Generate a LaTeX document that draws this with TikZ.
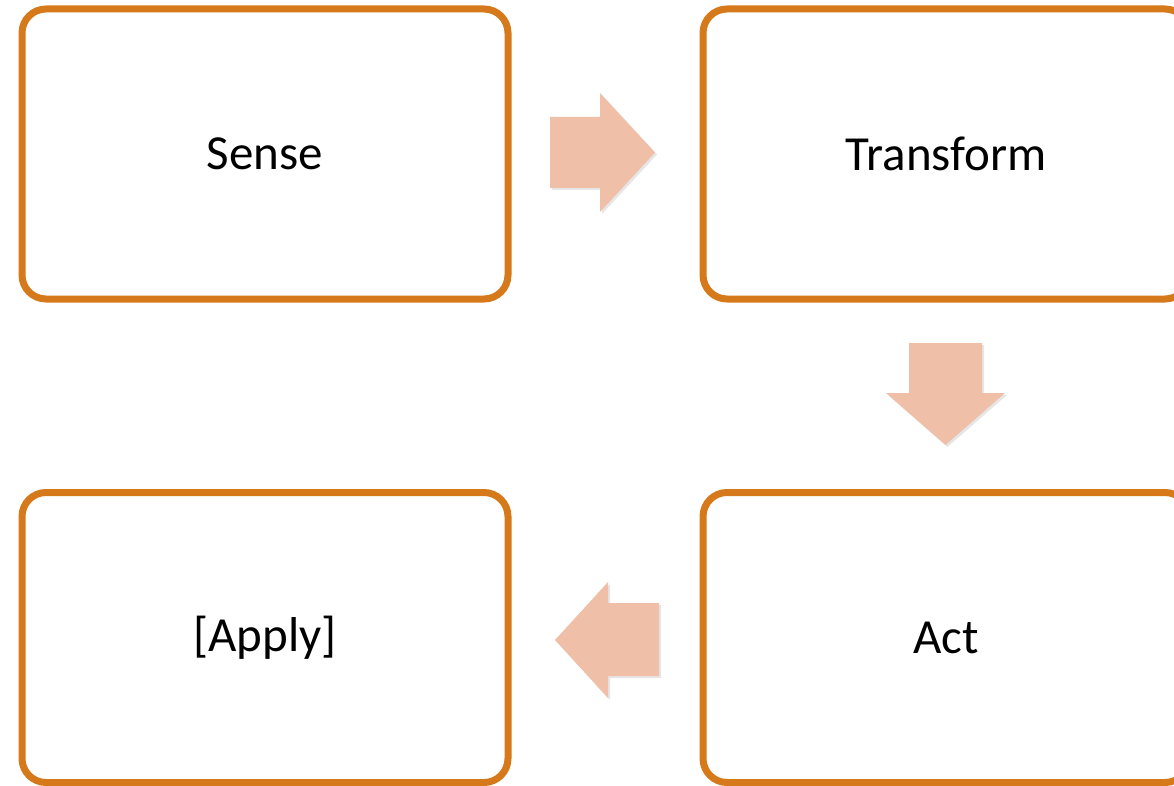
\documentclass[tikz,border=0pt]{standalone}
\usepackage{fontspec}
\setmainfont{Carlito}
\usetikzlibrary{shadows}
\definecolor{boxorange}{HTML}{D5791B}
\definecolor{arrowfill}{HTML}{EFBFA7}
\tikzset{
  stagebox/.style={draw=boxorange, line width=7pt, rounded corners=24pt, fill=white,
    minimum width=486pt, minimum height=290pt, inner sep=0pt,
    font=\fontsize{49}{58}\selectfont,
    drop shadow={shadow xshift=2pt, shadow yshift=-2pt, opacity=0.25, fill=gray}},
  blockarrow/.style={fill=arrowfill, draw=none,
    drop shadow={shadow xshift=2pt, shadow yshift=-2pt, opacity=0.2, fill=gray}},
}
\begin{document}
\begin{tikzpicture}[x=1pt, y=-1pt]
\useasboundingbox (0,0) rectangle (1174,786);
\clip (0,0) rectangle (1174,786);
\node[stagebox] (sense) at (265,154) {Sense};
\node[stagebox] (transform) at (946,154) {Transform};
\node[stagebox] (apply) at (265,637.5) {[Apply]};
\node[stagebox] (act) at (946,637.5) {Act};
% right arrow
\path[blockarrow] (550,117) -- (600,117) -- (600,93) -- (655,152.5) -- (600,212) -- (600,188) -- (550,188) -- cycle;
% down arrow
\path[blockarrow] (909,343) -- (982,343) -- (982,393) -- (1005,393) -- (945.5,445) -- (886,393) -- (909,393) -- cycle;
% left arrow
\path[blockarrow] (659,603) -- (608,603) -- (608,582) -- (555,640) -- (608,698) -- (608,676) -- (659,676) -- cycle;
\end{tikzpicture}
\end{document}
